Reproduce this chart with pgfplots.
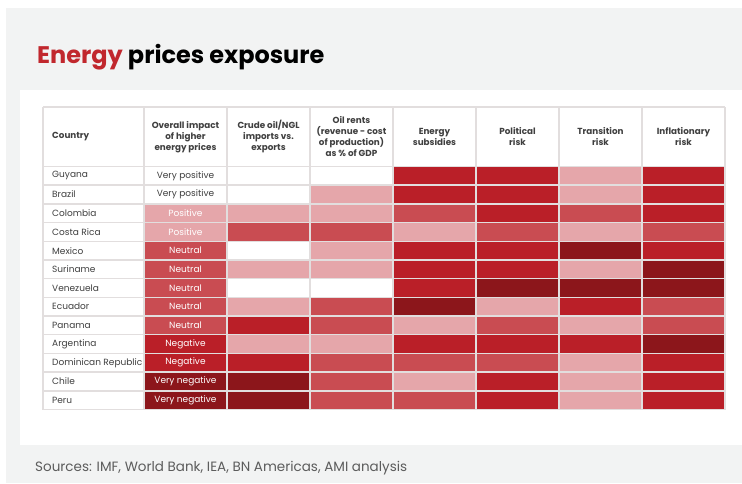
\documentclass[border=0pt]{standalone}
\usepackage{fontspec}
\setmainfont{Poppins}
\usepackage{pgfplots}
\pgfplotsset{compat=1.18}
\definecolor{bgGray}{HTML}{F2F3F3}
\definecolor{titleRed}{HTML}{C1272D}
\definecolor{txt}{HTML}{3F3F3F}
\definecolor{gridc}{HTML}{E2DEDE}
\begin{document}
\begin{tikzpicture}
\useasboundingbox[fill=white] (0pt,0pt) rectangle (742pt,-483pt);
\fill[bgGray] (6pt,-8pt) rectangle (742pt,-483pt);
\fill[white] (20pt,-90pt) rectangle (742pt,-445pt);
% title
\node[anchor=base west, inner sep=0pt, font=\fontsize{24}{28}\selectfont\bfseries]
  at (37pt,-63pt) {\textcolor{titleRed}{Energy} prices exposure};

\begin{axis}[
  at={(144pt,-166.5pt)}, anchor=north west,
  scale only axis, width=581pt, height=243pt,
  xmin=-0.5, xmax=6.5, ymin=-0.5, ymax=12.5, y dir=reverse,
  clip=false,
  axis line style={draw=none}, major tick length=0pt,
  xtick={0,...,6},
  xticklabels={{Overall impact\\of higher\\energy prices},
               {Crude oil/NGL\\imports vs.\\exports},
               {Oil rents\\(revenue - cost\\of production)\\as \% of GDP},
               {Energy\\subsidies},{Political\\risk},{Transition\\risk},{Inflationary\\risk}},
  xticklabel pos=upper,
  xticklabel style={align=center, anchor=center, yshift=29.75pt, text=txt,
    font=\fontsize{8.8}{11}\selectfont\bfseries},
  ytick={0,...,12},
  yticklabels={Guyana,Brazil,Colombia,Costa Rica,Mexico,Suriname,Venezuela,Ecuador,
               Panama,Argentina,Dominican Republic,Chile,Peru},
  yticklabel style={anchor=west, xshift=-92pt, text=txt, inner sep=0pt,
    font=\fontsize{9}{11}\selectfont},
  colormap={energy}{rgb255=(255,255,255) rgb255=(229,166,170) rgb255=(201,76,82)
                    rgb255=(186,31,40) rgb255=(140,22,27)},
  colormap access=direct,
]
\addplot[matrix plot*, mesh/cols=7, point meta=explicit] table[meta=c] {
x y c
0 0 0
1 0 0
2 0 0
3 0 3
4 0 3
5 0 1
6 0 3
0 1 0
1 1 0
2 1 1
3 1 3
4 1 3
5 1 1
6 1 3
0 2 1
1 2 1
2 2 1
3 2 2
4 2 3
5 2 2
6 2 3
0 3 1
1 3 2
2 3 2
3 3 1
4 3 2
5 3 1
6 3 2
0 4 2
1 4 0
2 4 1
3 4 3
4 4 3
5 4 4
6 4 3
0 5 2
1 5 1
2 5 1
3 5 3
4 5 3
5 5 1
6 5 4
0 6 2
1 6 0
2 6 0
3 6 3
4 6 4
5 6 4
6 6 4
0 7 2
1 7 1
2 7 2
3 7 4
4 7 1
5 7 3
6 7 2
0 8 2
1 8 3
2 8 2
3 8 1
4 8 2
5 8 1
6 8 2
0 9 3
1 9 1
2 9 1
3 9 3
4 9 3
5 9 3
6 9 4
0 10 3
1 10 3
2 10 2
3 10 2
4 10 2
5 10 1
6 10 3
0 11 4
1 11 4
2 11 2
3 11 1
4 11 3
5 11 1
6 11 3
0 12 4
1 12 4
2 12 2
3 12 2
4 12 3
5 12 1
6 12 3
};
% overall impact labels
\addplot[draw=none, point meta=explicit symbolic, nodes near coords,
  every node near coord/.append style={anchor=center, text=txt,
    font=\fontsize{9}{11}\selectfont}]
  coordinates {(0,0) [Very positive] (0,1) [Very positive]};
\addplot[draw=none, point meta=explicit symbolic, nodes near coords,
  every node near coord/.append style={anchor=center, text=white,
    font=\fontsize{9}{11}\selectfont}]
  coordinates {(0,2) [Positive] (0,3) [Positive] (0,4) [Neutral] (0,5) [Neutral]
    (0,6) [Neutral] (0,7) [Neutral] (0,8) [Neutral] (0,9) [Negative]
    (0,10) [Negative] (0,11) [Very negative] (0,12) [Very negative]};
\end{axis}

% table frame
\foreach \k in {0,...,13}
  \draw[gridc, line width=1.5pt] (43pt,{-166.5pt-18.692pt*\k}) -- (725pt,{-166.5pt-18.692pt*\k});
\draw[gridc, line width=1.5pt] (43pt,-107pt) -- (725pt,-107pt);
\foreach \k in {0,...,7}
  \draw[gridc, line width=1.5pt] ({144pt+83pt*\k},-107pt) -- ({144pt+83pt*\k},-409.5pt);
\draw[gridc, line width=1.5pt] (43pt,-107pt) -- (43pt,-409.5pt);
\node[anchor=west, inner sep=0pt, text=txt, font=\fontsize{8.8}{11}\selectfont\bfseries]
  at (52pt,-136.5pt) {Country};

% source
\node[anchor=base west, inner sep=0pt, text=txt!85, font=\fontsize{13.5}{16}\selectfont]
  at (35pt,-471pt) {Sources: IMF, World Bank, IEA, BN Americas, AMI analysis};
\end{tikzpicture}
\end{document}
